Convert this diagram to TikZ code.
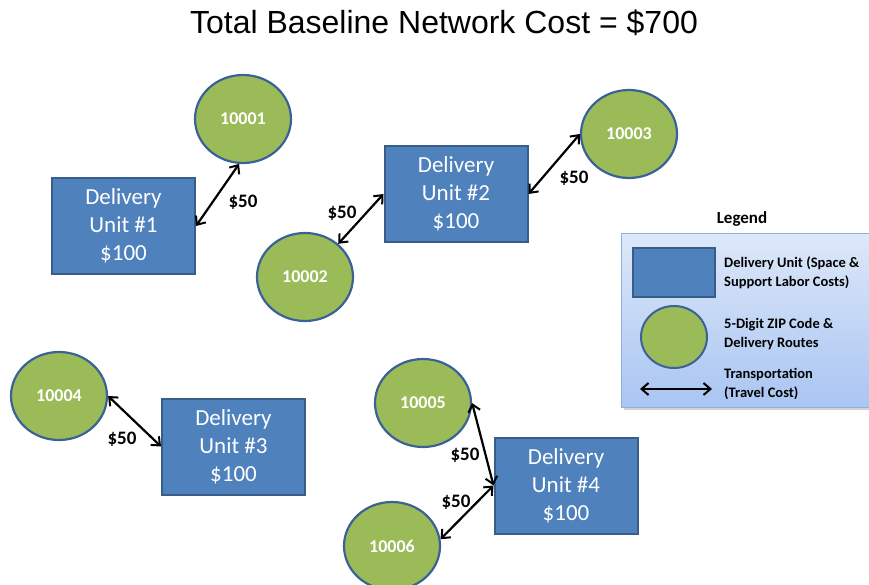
\documentclass[tikz,border=0pt]{standalone}
\usepackage{fontspec}
\setmainfont{Carlito}
\newfontfamily\titlefont{Liberation Sans}
\usetikzlibrary{shapes.geometric,arrows.meta,shadows}
\definecolor{dufill}{HTML}{4F81BD}
\definecolor{dudraw}{HTML}{385D8A}
\definecolor{zipfill}{HTML}{9BBB59}
\definecolor{zipdraw}{HTML}{3B6296}
\definecolor{legtop}{HTML}{DDE8F9}
\definecolor{legbot}{HTML}{A9C5F2}
\definecolor{legdraw}{HTML}{8EB0DE}
\tikzset{
  unitbox/.style={rectangle, fill=dufill, draw=dudraw, line width=2pt,
    minimum width=143pt, minimum height=96pt, inner sep=0pt, align=center,
    text=white, font=\fontsize{23}{28}\selectfont},
  zip/.style={ellipse, fill=zipfill, draw=zipdraw, line width=2.2pt,
    minimum width=96pt, minimum height=88pt, inner sep=0pt,
    text=white, font=\bfseries\fontsize{18}{20}\selectfont},
  link/.style={{Straight Barb[length=7pt,width=12pt,line width=2pt]}-{Straight Barb[length=7pt,width=12pt,line width=2pt]}, line width=2.2pt, black},
  cost/.style={font=\bfseries\fontsize{19}{21}\selectfont, inner sep=0pt},
  legtext/.style={anchor=west, align=left, inner sep=0pt, font=\bfseries\fontsize{14.5}{18.5}\selectfont}
}
\begin{document}
\begin{tikzpicture}[x=1pt,y=-1pt]
\useasboundingbox (0,0) rectangle (869,585);
\node[font=\titlefont\fontsize{32}{36}\selectfont, inner sep=0pt] (title) at (444,23) {Total Baseline Network Cost = \$700};

% delivery units
\node[unitbox] (du1) at (123.5,226) {Delivery\\Unit \#1\\\$100};
\node[unitbox] (du2) at (456,194) {Delivery\\Unit \#2\\\$100};
\node[unitbox] (du3) at (233.5,446.5) {Delivery\\Unit \#3\\\$100};
\node[unitbox] (du4) at (566,485.5) {Delivery\\Unit \#4\\\$100};

% zip codes
\node[zip] (c1) at (243,119) {10001};
\node[zip] (c2) at (305,277) {10002};
\node[zip] (c3) at (629,134) {10003};
\node[zip] (c4) at (59,396) {10004};
\node[zip] (c5) at (423,403) {10005};
\node[zip] (c6) at (392,546) {10006};

% links
\draw[link] (du1.east) -- (c1.265);
\draw[link] (c2.45) -- (du2.west);
\draw[link] (du2.east) -- (c3.west);
\draw[link] (c4.east) -- (du3.west);
\draw[link] (c5.east) -- (du4.west);
\draw[link] (c6.8) -- (du4.west);

% costs
\node[cost] (k1) at (243,202) {\$50};
\node[cost] (k2) at (342,213) {\$50};
\node[cost] (k3) at (574,178) {\$50};
\node[cost] (k4) at (122,439) {\$50};
\node[cost] (k5) at (465,455) {\$50};
\node[cost] (k6) at (456,502) {\$50};

% legend
\node[font=\bfseries\fontsize{17}{19}\selectfont, inner sep=0pt] (legtitle) at (742,219) {Legend};
\node[rectangle, draw=legdraw, line width=1pt, top color=legtop, bottom color=legbot,
  minimum width=251pt, minimum height=174pt, anchor=north west,
  drop shadow={opacity=0.35, shadow xshift=2pt, shadow yshift=-2pt}] (legbox) at (621,233) {};
\node[rectangle, fill=dufill, draw=dudraw, line width=2pt, minimum width=82pt, minimum height=49pt, inner sep=0pt] (legunit) at (674,272.5) {};
\node[ellipse, fill=zipfill, draw=zipdraw, line width=2pt, minimum width=66pt, minimum height=62pt, inner sep=0pt] (legzip) at (674,337) {};
\coordinate (la) at (640,389);
\coordinate (lb) at (712,389);
\draw[link] (la) -- (lb);
\node[legtext] (lt1) at (724,273) {Delivery Unit (Space \&\\Support Labor Costs)};
\node[legtext] (lt2) at (724,334) {5-Digit ZIP Code \&\\Delivery Routes};
\node[legtext] (lt3) at (724,384) {Transportation\\(Travel Cost)};
\end{tikzpicture}
\end{document}
